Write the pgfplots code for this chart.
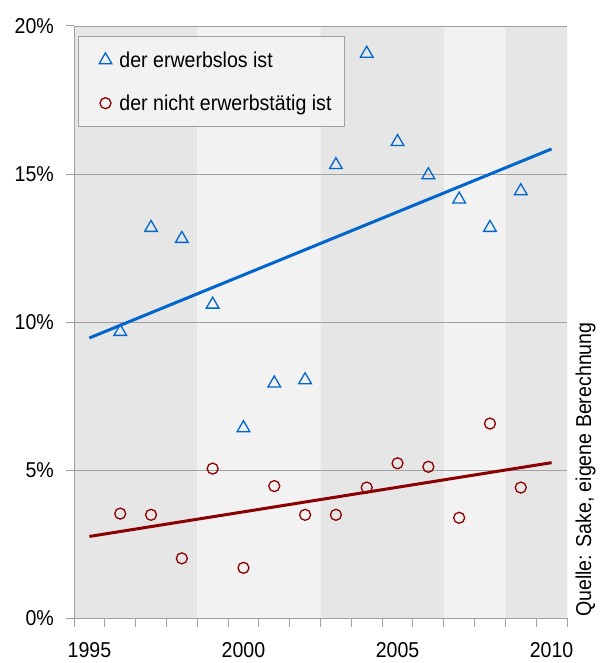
\documentclass[border=0pt]{standalone}
\usepackage{fontspec}
\setmainfont[FakeStretch=0.91]{Liberation Sans}
\usepackage{pgfplots}
\pgfplotsset{compat=1.18}
\definecolor{bandD}{HTML}{E6E6E6}
\definecolor{bandL}{HTML}{F2F2F2}
\definecolor{gridc}{HTML}{A0A0A0}
\definecolor{blueM}{HTML}{0066CC}
\definecolor{redM}{HTML}{8B0000}
\begin{document}
\begin{tikzpicture}[font=\fontsize{21.5}{24}\selectfont]
\begin{axis}[
  scale only axis, width=493pt, height=592.5pt,
  xmin=1994.5, xmax=2010.5, ymin=0, ymax=20,
  set layers=standard,
  axis x line*=bottom, axis y line*=left,
  axis line style={-, draw=gridc, line width=1pt},
  xtick={1995,2000,2005,2010}, xticklabels={1995,2000,2005,2010},
  minor xtick={1994.5,1995.5,...,2010.5},
  ytick={0,5,10,15,20}, yticklabels={0\%,5\%,10\%,15\%,20\%},
  tick align=outside, major tick length=8pt, minor tick length=8pt,
  major x tick style={draw=none},
  tick style={draw=gridc, line width=1pt},
  ymajorgrids, major grid style={draw=gridc, line width=0.8pt},
  xticklabel style={inner sep=0pt, anchor=north, yshift=-16pt},
  yticklabel style={inner sep=0pt, anchor=east, xshift=-12pt},
  legend style={at={(0.008,0.983)}, anchor=north west, fill=bandL, draw=gridc,
    line width=1pt, inner xsep=11pt, inner ysep=13pt, row sep=22pt,
    font=\fontsize{21.5}{24}\selectfont},
  legend cell align=left,
  legend image code/.code={%
    \path (-7pt,0pt) (20pt,0pt);
    \draw[#1] plot coordinates {(0.3cm,0cm)};},
]
\addplot[draw=none, fill=bandD, on layer=axis background, forget plot] coordinates {(1994.5,0)(1994.5,20)(1998.5,20)(1998.5,0)} \closedcycle;
\addplot[draw=none, fill=bandL, on layer=axis background, forget plot] coordinates {(1998.5,0)(1998.5,20)(2002.5,20)(2002.5,0)} \closedcycle;
\addplot[draw=none, fill=bandD, on layer=axis background, forget plot] coordinates {(2002.5,0)(2002.5,20)(2006.5,20)(2006.5,0)} \closedcycle;
\addplot[draw=none, fill=bandL, on layer=axis background, forget plot] coordinates {(2006.5,0)(2006.5,20)(2008.5,20)(2008.5,0)} \closedcycle;
\addplot[draw=none, fill=bandD, on layer=axis background, forget plot] coordinates {(2008.5,0)(2008.5,20)(2010.5,20)(2010.5,0)} \closedcycle;

\addplot[only marks, mark=triangle, mark size=7.3pt, color=blueM, mark options={line width=1.3pt}] coordinates {
(1996,9.68)(1997,13.19)(1998,12.82)(1999,10.60)(2000,6.43)(2001,7.94)(2002,8.05)
(2003,15.31)(2004,19.07)(2005,16.09)(2006,14.97)(2007,14.15)(2008,13.19)(2009,14.43)};
\addlegendentry{der erwerbslos ist}
\addplot[only marks, mark=o, mark size=5.5pt, color=redM, mark options={line width=1.3pt}] coordinates {
(1996,3.54)(1997,3.50)(1998,2.03)(1999,5.06)(2000,1.71)(2001,4.47)(2002,3.50)
(2003,3.50)(2004,4.42)(2005,5.24)(2006,5.12)(2007,3.40)(2008,6.58)(2009,4.42)};
\addlegendentry{der nicht erwerbstätig ist}
\addplot[color=blueM, line width=3pt, forget plot] coordinates {(1995,9.47)(2010,15.85)};
\addplot[color=redM, line width=3pt, forget plot] coordinates {(1995,2.77)(2010,5.26)};
\end{axis}
\node[rotate=90, anchor=base west, inner sep=0pt] at ([xshift=24pt,yshift=1.5pt]current axis.south east) {Quelle: Sake, eigene Berechnung};
\pgfresetboundingbox
\path[use as bounding box] ([shift={(-74pt,-44.5pt)}]current axis.south west) rectangle ([shift={(40pt,26pt)}]current axis.north east);
\end{tikzpicture}
\end{document}
